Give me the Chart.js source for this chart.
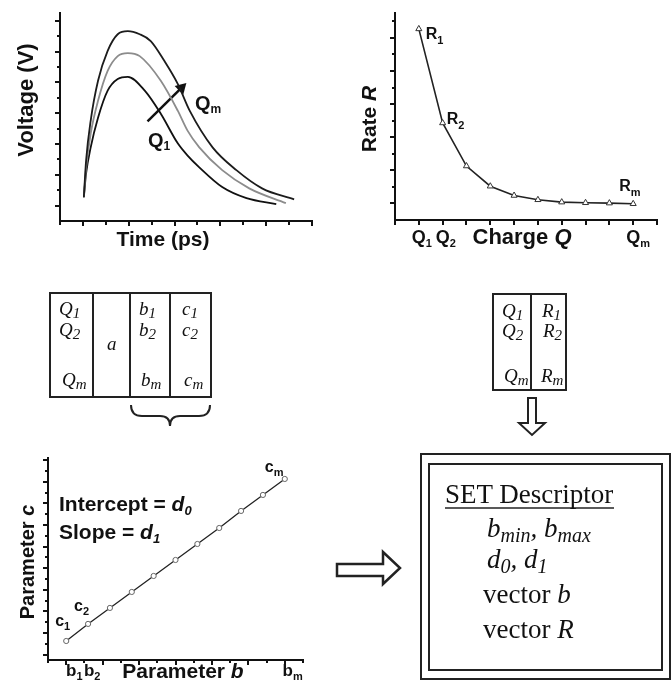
<!DOCTYPE html>
<html>
<head>
<meta charset="utf-8">
<script src="https://cdn.jsdelivr.net/npm/chart.js@4.4.1/dist/chart.umd.min.js"></script>
<style>
  html, body { margin: 0; padding: 0; background: #fff; }
  #wrap { position: relative; width: 671px; height: 689px; overflow: hidden; background: #fff; }
  canvas, svg { position: absolute; }
</style>
</head>
<body>
<div id="wrap">
  <canvas id="chartVoltage" width="330" height="260" style="left:0;top:0"></canvas>
  <canvas id="chartRate" width="331" height="260" style="left:340px;top:0"></canvas>
  <canvas id="chartParam" width="330" height="249" style="left:0;top:440px"></canvas>

  <svg width="671" height="689" style="left:0;top:0">
    <g fill="none" stroke="#222" stroke-width="2">
      <!-- Q | a | b | c table -->
      <rect x="50" y="293" width="161" height="104"/>
      <line x1="93" y1="293" x2="93" y2="397"/>
      <line x1="130" y1="293" x2="130" y2="397"/>
      <line x1="170" y1="293" x2="170" y2="397"/>
      <path d="M131 405 Q131 416 142 416 L160 416 Q170 416 170 426 Q170 416 180 416 L199 416 Q210 416 210 405"/>
      <!-- Q | R table -->
      <rect x="493" y="294" width="73" height="96"/>
      <line x1="531" y1="294" x2="531" y2="390"/>
      <path d="M528 398 H536 V423 H545 L532 435 L519 423 H528 Z"/>
      <!-- right arrow -->
      <path d="M337 564 H383 V552 L400 568 L383 584 V576 H337 Z" stroke-width="2.5"/>
      <!-- descriptor box -->
      <rect x="421" y="454" width="249" height="225"/>
      <rect x="429" y="464" width="233" height="206"/>
      <line x1="445" y1="508" x2="614" y2="508" stroke-width="1.5"/>
    </g>
    <g font-family="'Liberation Serif', 'Times New Roman', serif" fill="#111">
      <g font-style="italic" font-size="19">
        <text x="59" y="315">Q<tspan dy="3" font-size="15">1</tspan></text>
        <text x="59" y="336">Q<tspan dy="3" font-size="15">2</tspan></text>
        <text x="62" y="386">Q<tspan dy="3" font-size="15">m</tspan></text>
        <text x="107" y="350">a</text>
        <text x="139" y="315">b<tspan dy="3" font-size="15">1</tspan></text>
        <text x="139" y="336">b<tspan dy="3" font-size="15">2</tspan></text>
        <text x="141" y="386">b<tspan dy="3" font-size="15">m</tspan></text>
        <text x="182" y="315">c<tspan dy="3" font-size="15">1</tspan></text>
        <text x="182" y="336">c<tspan dy="3" font-size="15">2</tspan></text>
        <text x="184" y="386">c<tspan dy="3" font-size="15">m</tspan></text>

        <text x="502" y="317">Q<tspan dy="3" font-size="15">1</tspan></text>
        <text x="502" y="337">Q<tspan dy="3" font-size="15">2</tspan></text>
        <text x="504" y="382">Q<tspan dy="3" font-size="15">m</tspan></text>
        <text x="542" y="317">R<tspan dy="3" font-size="15">1</tspan></text>
        <text x="543" y="337">R<tspan dy="3" font-size="15">2</tspan></text>
        <text x="541" y="382">R<tspan dy="3" font-size="15">m</tspan></text>
      </g>
      <g font-size="27">
        <text x="445" y="503">SET Descriptor</text>
        <text x="487" y="537" font-style="italic">b<tspan font-size="20" dy="5">min</tspan><tspan dy="-5">, </tspan>b<tspan font-size="20" dy="5">max</tspan></text>
        <text x="487" y="568" font-style="italic">d<tspan font-size="20" dy="5">0</tspan><tspan dy="-5">, </tspan>d<tspan font-size="20" dy="5">1</tspan></text>
        <text x="483" y="603">vector <tspan font-style="italic">b</tspan></text>
        <text x="483" y="638">vector <tspan font-style="italic">R</tspan></text>
      </g>
    </g>
  </svg>
</div>

<script>
// pulse curves, time vs voltage (arbitrary units), three charges
const timeQm = [1.02, 1.07, 1.17, 1.33, 1.54, 1.76, 1.98, 2.24, 2.48, 2.78, 3.07, 3.33, 3.83, 4.35, 4.91, 5.61];
const voltQm = [1.27, 2.47, 3.76, 5.05, 6.02, 6.56, 6.66, 6.56, 6.34, 5.69, 4.95, 4.08, 2.89, 2.15, 1.56, 1.20];
const timeQmid = [1.02, 1.07, 1.17, 1.33, 1.54, 1.76, 1.98, 2.24, 2.70, 3.07, 3.28, 3.54, 4.04, 4.63, 5.43];
const voltQmid = [1.27, 2.24, 3.34, 4.40, 5.37, 5.85, 5.95, 5.85, 5.05, 4.08, 3.44, 2.89, 2.15, 1.56, 1.08];
const timeQ1 = [1.02, 1.07, 1.17, 1.33, 1.54, 1.76, 1.98, 2.35, 2.70, 3.07, 3.28, 3.54, 4.04, 4.57, 5.22];
const voltQ1 = [1.27, 2.05, 2.89, 3.85, 4.73, 5.11, 5.18, 4.73, 3.98, 3.02, 2.63, 2.24, 1.60, 1.24, 1.05];
const arrowTime = [2.41, 3.15];
const arrowVolt = [3.73, 4.82];

// rate vs charge
const chargeIdx = [1, 2, 3, 4, 5, 6, 7, 8, 9, 10];
const rateR = [6.27, 3.43, 2.13, 1.52, 1.24, 1.11, 1.04, 1.02, 1.01, 0.99];

// parameter c vs parameter b
const paramB = [1.0, 1.6, 2.2, 2.8, 3.4, 4.0, 4.6, 5.2, 5.8, 6.4, 7.0];
const paramC = [1.63, 2.42, 3.16, 3.90, 4.64, 5.38, 6.12, 6.86, 7.65, 8.39, 9.13];

const SANS = '"Liberation Sans", Arial, sans-serif';
const B = (s) => `bold ${s}px ${SANS}`;
const BI = (s) => `italic bold ${s}px ${SANS}`;
const ROT = -Math.PI / 2;

Chart.defaults.font.family = SANS;
Chart.defaults.animation = false;

const pts = (xs, ys) => xs.map((x, i) => ({ x, y: ys[i] }));

// short tick marks drawn outside the axes, major ones longer
const axisTicks = {
  id: "axisTicks",
  afterDraw(chart, args, opts) {
    const { ctx, chartArea } = chart;
    ctx.save();
    ctx.strokeStyle = "#111";
    ctx.lineWidth = 2;
    ["x", "y"].forEach((key) => {
      const o = opts[key];
      if (!o) return;
      const sc = chart.scales[key];
      const n = Math.round((o.to - o.from) / o.step);
      for (let i = 0; i <= n; i++) {
        const v = o.from + i * o.step;
        const major = Math.abs(v / o.major - Math.round(v / o.major)) < 1e-6;
        const len = major ? o.long : o.short;
        const p = Math.round(sc.getPixelForValue(v));
        ctx.beginPath();
        if (key === "x") {
          ctx.moveTo(p, chartArea.bottom);
          ctx.lineTo(p, chartArea.bottom + len);
        } else {
          ctx.moveTo(chartArea.left, p);
          ctx.lineTo(chartArea.left - len, p);
        }
        ctx.stroke();
      }
    });
    ctx.restore();
  },
};

// text with mixed styles and subscripts
const richText = {
  id: "richText",
  afterDraw(chart, args, opts) {
    const ctx = chart.ctx;
    (opts.items || []).forEach((it) => {
      let x = it.xv != null ? chart.scales.x.getPixelForValue(it.xv) : it.x;
      let y = it.yv != null ? chart.scales.y.getPixelForValue(it.yv) : it.y;
      x += it.dx || 0;
      y += it.dy || 0;
      ctx.save();
      ctx.fillStyle = "#111";
      ctx.textBaseline = "middle";
      ctx.translate(x, y);
      if (it.rot) ctx.rotate(it.rot);
      const widths = it.parts.map((p) => { ctx.font = p.f; return ctx.measureText(p.t).width; });
      const total = widths.reduce((a, b) => a + b, 0);
      let cx = it.align === "center" ? -total / 2 : it.align === "first" ? -widths[0] / 2 : 0;
      it.parts.forEach((p, i) => {
        ctx.font = p.f;
        ctx.fillText(p.t, cx, p.dy || 0);
        cx += widths[i];
      });
      ctx.restore();
    });
  },
};

function axis(min, max) {
  return {
    type: "linear",
    min,
    max,
    grid: { display: false, drawTicks: false },
    ticks: { display: false },
    border: { display: true, color: "#111", width: 2 },
  };
}

function baseOptions(padding, xr, yr, ticks, items) {
  return {
    responsive: false,
    devicePixelRatio: 1,
    layout: { padding },
    scales: { x: axis(xr[0], xr[1]), y: axis(yr[0], yr[1]) },
    plugins: {
      legend: { display: false },
      tooltip: { enabled: false },
      axisTicks: ticks,
      richText: { items },
    },
  };
}

function sub(main, s, size, subSize, dy, italic) {
  const f = italic ? BI : B;
  return [{ t: main, f: f(size) }, { t: s, f: f(subSize), dy }];
}

new Chart(document.getElementById("chartVoltage").getContext("2d"), {
  type: "line",
  data: {
    datasets: [
      { data: pts(timeQm, voltQm), borderColor: "#1c1c1c", borderWidth: 1.8, pointRadius: 0, cubicInterpolationMode: "monotone" },
      { data: pts(timeQmid, voltQmid), borderColor: "#8c8c8c", borderWidth: 1.8, pointRadius: 0, cubicInterpolationMode: "monotone" },
      { data: pts(timeQ1, voltQ1), borderColor: "#111", borderWidth: 1.8, pointRadius: 0, cubicInterpolationMode: "monotone" },
      {
        data: pts(arrowTime, arrowVolt), borderColor: "#111", borderWidth: 2.5,
        pointRadius: [0, 7], pointStyle: "triangle", rotation: 45,
        pointBackgroundColor: "#111", pointBorderColor: "#111", pointBorderWidth: 0,
      },
    ],
  },
  options: baseOptions(
    { left: 60, top: 13, right: 18, bottom: 39 },
    [0.5, 6], [0.5, 7.25],
    {
      x: { from: 0.5, to: 6, step: 0.5, major: 1, long: 5, short: 4 },
      y: { from: 1, to: 7, step: 0.5, major: 1, long: 5, short: 3 },
    },
    [
      { x: 27, y: 100, rot: ROT, align: "center", parts: [{ t: "Voltage (V)", f: B(22) }] },
      { x: 163, y: 240, align: "center", parts: [{ t: "Time (ps)", f: B(21) }] },
      { x: 148, y: 141, parts: sub("Q", "1", 20, 12, 6) },
      { x: 195, y: 104, parts: sub("Q", "m", 20, 12, 6) },
    ]
  ),
  plugins: [axisTicks, richText],
});

new Chart(document.getElementById("chartRate").getContext("2d"), {
  type: "line",
  data: {
    datasets: [{
      data: pts(chargeIdx, rateR), borderColor: "#222", borderWidth: 1.6, tension: 0,
      pointStyle: "triangle", pointRadius: 3.5, pointBackgroundColor: "#fff",
      pointBorderColor: "#333", pointBorderWidth: 1,
    }],
  },
  options: baseOptions(
    { left: 55, top: 13, right: 14, bottom: 40 },
    [0, 11], [0.5, 6.75],
    {
      x: { from: 0, to: 11, step: 1, major: 1, long: 5, short: 5 },
      y: { from: 1, to: 6.5, step: 0.5, major: 1, long: 5, short: 3 },
    },
    [
      { x: 30, y: 119, rot: ROT, align: "center", parts: [{ t: "Rate ", f: B(21) }, { t: "R", f: BI(21) }] },
      { x: 182, y: 238, align: "center", parts: [{ t: "Charge ", f: B(22) }, { t: "Q", f: BI(22) }] },
      { xv: chargeIdx[0], y: 238, align: "first", parts: sub("Q", "1", 18, 11, 6) },
      { xv: chargeIdx[1], y: 238, align: "first", parts: sub("Q", "2", 18, 11, 6) },
      { xv: chargeIdx[9], y: 238, align: "first", parts: sub("Q", "m", 18, 11, 6) },
      { xv: chargeIdx[0], yv: rateR[0], dx: 7, dy: 6, parts: sub("R", "1", 16, 11, 6) },
      { xv: chargeIdx[1], yv: rateR[1], dx: 4, dy: -3, parts: sub("R", "2", 16, 11, 6) },
      { xv: chargeIdx[9], yv: rateR[9], dx: -14, dy: -17, parts: sub("R", "m", 16, 11, 6) },
    ]
  ),
  plugins: [axisTicks, richText],
});

new Chart(document.getElementById("chartParam").getContext("2d"), {
  type: "line",
  data: {
    datasets: [{
      data: pts(paramB, paramC), borderColor: "#222", borderWidth: 1.3, tension: 0,
      pointRadius: 2.6, pointBackgroundColor: "#fff", pointBorderColor: "#666", pointBorderWidth: 1,
    }],
  },
  options: baseOptions(
    { left: 48, top: 18, right: 27, bottom: 29 },
    [0.5, 7.5], [0.75, 10.1],
    {
      x: { from: 0.5, to: 7.5, step: 0.5, major: 1, long: 5, short: 3 },
      y: { from: 1, to: 10, step: 0.5, major: 1, long: 5, short: 3 },
    },
    [
      { x: 28, y: 122, rot: ROT, align: "center", parts: [{ t: "Parameter ", f: B(20) }, { t: "c", f: BI(20) }] },
      { x: 183, y: 232, align: "center", parts: [{ t: "Parameter ", f: B(21) }, { t: "b", f: BI(21) }] },
      { xv: paramB[0], y: 231, dx: 5, align: "first", parts: sub("b", "1", 17, 11, 6) },
      { xv: paramB[1], y: 231, dx: 1, align: "first", parts: sub("b", "2", 17, 11, 6) },
      { xv: paramB[10], y: 231, dx: 3, align: "first", parts: sub("b", "m", 17, 11, 6) },
      { x: 59, y: 65, parts: [{ t: "Intercept = ", f: B(21) }, { t: "d", f: BI(21) }, { t: "0", f: BI(13), dy: 6 }] },
      { x: 59, y: 93, parts: [{ t: "Slope = ", f: B(21) }, { t: "d", f: BI(21) }, { t: "1", f: BI(13), dy: 6 }] },
      { xv: paramB[0], yv: paramC[0], dx: -11, dy: -19, parts: sub("c", "1", 16, 11, 5) },
      { xv: paramB[1], yv: paramC[1], dx: -14, dy: -17, parts: sub("c", "2", 16, 11, 5) },
      { xv: paramB[10], yv: paramC[10], dx: -20, dy: -11, parts: sub("c", "m", 16, 11, 5) },
    ]
  ),
  plugins: [axisTicks, richText],
});
</script>
</body>
</html>
